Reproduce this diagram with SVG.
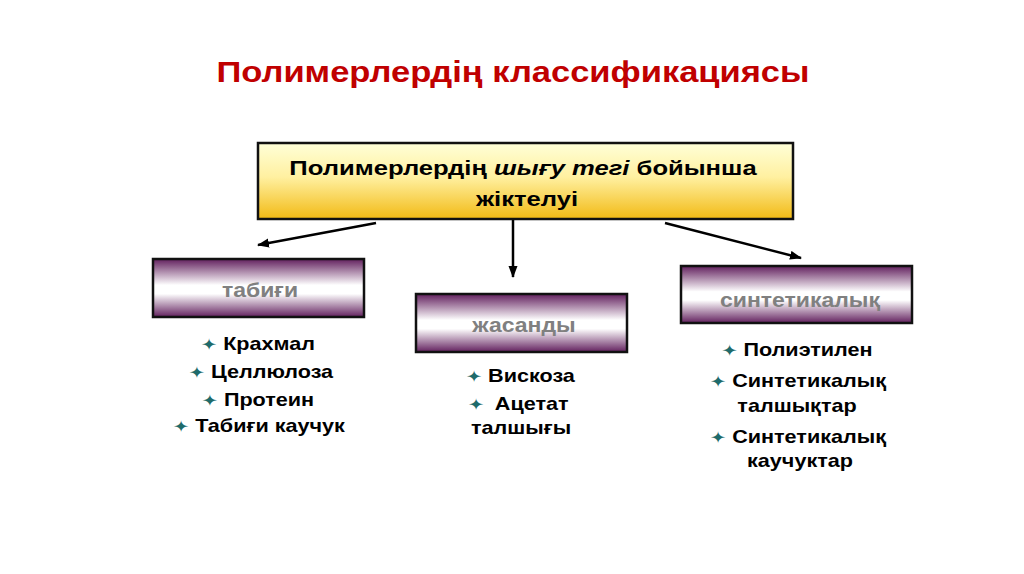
<svg xmlns="http://www.w3.org/2000/svg" width="1024" height="574" viewBox="0 0 1024 574">
<defs>
<linearGradient id="gold" x1="0" y1="0" x2="0" y2="1">
<stop offset="0" stop-color="#FFFFD8"/>
<stop offset="0.45" stop-color="#FFF0A0"/>
<stop offset="1" stop-color="#F2BA14"/>
</linearGradient>
<linearGradient id="purp" x1="0" y1="0" x2="0" y2="1">
<stop offset="0" stop-color="#62205E"/>
<stop offset="0.45" stop-color="#FFFFFF"/>
<stop offset="0.6" stop-color="#FFFFFF"/>
<stop offset="1" stop-color="#62205E"/>
</linearGradient>
<marker id="ah" markerWidth="12" markerHeight="10" refX="11" refY="5" orient="auto" markerUnits="userSpaceOnUse">
<path d="M0,0.5 L12,5 L0,9.5 Z" fill="#000"/>
</marker>
</defs>
<style>
text{font-family:"Liberation Sans",Arial,sans-serif;font-weight:bold;}
.title{font-size:30px;fill:#C00000;}
.main{font-size:21px;fill:#000;}
.cat{font-size:20px;fill:#808080;}
.item{font-size:18px;fill:#000;}
.b{fill:#1F6B6B;font-family:"DejaVu Sans",sans-serif;font-size:16px;}
.box{stroke:#111;stroke-width:2.5;}
.conn{stroke:#000;stroke-width:2.5;fill:none;}
</style>
<rect width="1024" height="574" fill="#fff"/>
<text class="title" transform="translate(513,82) scale(1.15,1)" text-anchor="middle">Полимерлердің классификациясы</text>

<g id="root">
<rect class="box" x="258" y="143" width="535" height="76" fill="url(#gold)"/>
<text class="main" transform="translate(523,175) scale(1.22,1)" text-anchor="middle">Полимерлердің <tspan font-style="italic">шығу тегі</tspan> бойынша</text>
<text class="main" transform="translate(527,206) scale(1.22,1)" text-anchor="middle">жіктелуі</text>
</g>

<g id="connectors">
<line class="conn" x1="376" y1="223" x2="258" y2="245" marker-end="url(#ah)"/>
<line class="conn" x1="513" y1="220" x2="513" y2="277" marker-end="url(#ah)"/>
<line class="conn" x1="665" y1="223" x2="801" y2="258" marker-end="url(#ah)"/>
</g>

<g id="natural">
<rect class="box" x="153" y="259" width="211" height="58" fill="url(#purp)"/>
<text class="cat" transform="translate(260,297) scale(1.15,1)" text-anchor="middle">табиғи</text>
<text class="item" transform="translate(258,350) scale(1.2,1)" text-anchor="middle"><tspan class="b">✦</tspan> Крахмал</text>
<text class="item" transform="translate(261,378) scale(1.2,1)" text-anchor="middle"><tspan class="b">✦</tspan> Целлюлоза</text>
<text class="item" transform="translate(258,406) scale(1.2,1)" text-anchor="middle"><tspan class="b">✦</tspan> Протеин</text>
<text class="item" transform="translate(259,432) scale(1.2,1)" text-anchor="middle"><tspan class="b">✦</tspan> Табиғи каучук</text>
</g>

<g id="artificial">
<rect class="box" x="416" y="294" width="211" height="58" fill="url(#purp)"/>
<text class="cat" transform="translate(524,332) scale(1.15,1)" text-anchor="middle">жасанды</text>
<text class="item" transform="translate(466,382) scale(1.2,1)"><tspan class="b">✦</tspan> Вискоза</text>
<text class="item" transform="translate(468,410) scale(1.2,1)"><tspan class="b">✦</tspan> <tspan dx="4">Ацетат</tspan></text>
<text class="item" transform="translate(471,434) scale(1.2,1)">талшығы</text>
</g>

<g id="synthetic">
<rect class="box" x="681" y="266" width="231" height="57" fill="url(#purp)"/>
<text class="cat" transform="translate(800,307) scale(1.15,1)" text-anchor="middle">синтетикалық</text>
<text class="item" transform="translate(797,356) scale(1.2,1)" text-anchor="middle"><tspan class="b">✦</tspan> Полиэтилен</text>
<text class="item" transform="translate(798,387) scale(1.2,1)" text-anchor="middle"><tspan class="b">✦</tspan> Синтетикалық</text>
<text class="item" transform="translate(797,412) scale(1.2,1)" text-anchor="middle">талшықтар</text>
<text class="item" transform="translate(798,443) scale(1.2,1)" text-anchor="middle"><tspan class="b">✦</tspan> Синтетикалық</text>
<text class="item" transform="translate(800,467) scale(1.2,1)" text-anchor="middle">каучуктар</text>
</g>
</svg>
